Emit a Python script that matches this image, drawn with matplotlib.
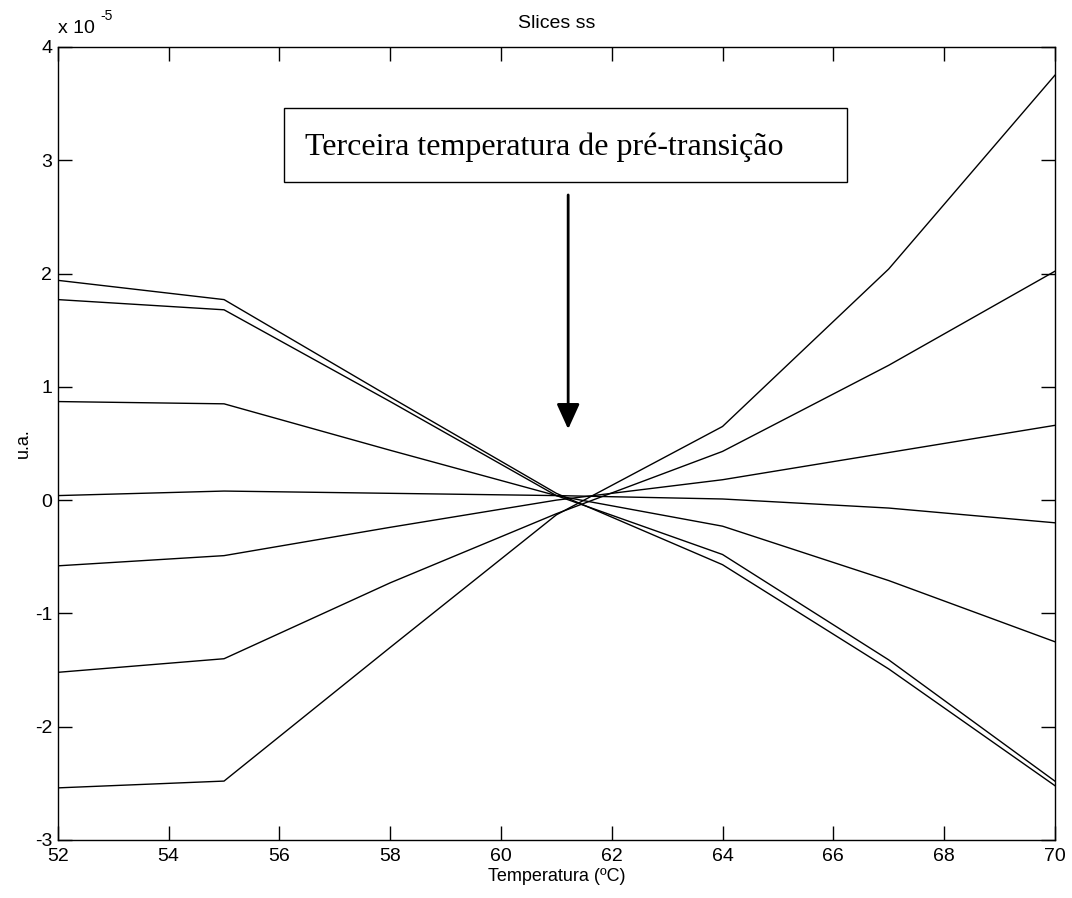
"""
Slices ss - third pre-transition temperature
"""

import matplotlib as mpl
import matplotlib.pyplot as plt
from matplotlib.patches import Rectangle

mpl.rcParams["font.family"] = ["Liberation Sans", "DejaVu Sans"]
mpl.rcParams["axes.unicode_minus"] = False

# temperatures (ºC)
temperatura = [52, 55, 58, 61, 64, 67, 70]

# slice values, in units of 1e-5
slice_1 = [1.94, 1.77, 0.91, 0.06, -0.57, -1.49, -2.52]
slice_2 = [1.77, 1.68, 0.87, 0.04, -0.48, -1.41, -2.48]
slice_3 = [0.87, 0.85, 0.44, 0.04, -0.23, -0.71, -1.25]
slice_4 = [0.04, 0.08, 0.06, 0.04, 0.01, -0.07, -0.20]
slice_5 = [-0.58, -0.49, -0.24, 0.00, 0.18, 0.42, 0.66]
slice_6 = [-1.52, -1.40, -0.73, -0.12, 0.43, 1.19, 2.02]
slice_7 = [-2.54, -2.48, -1.30, -0.13, 0.65, 2.04, 3.75]

slices = [slice_1, slice_2, slice_3, slice_4, slice_5, slice_6, slice_7]

xticks = [52, 54, 56, 58, 60, 62, 64, 66, 68, 70]
yticks = [-3, -2, -1, 0, 1, 2, 3, 4]

fig = plt.figure(figsize=(10.72, 8.98), dpi=100)
ax = fig.add_axes([0.054, 0.0646, 0.930, 0.8831])

for s in slices:
    ax.plot(temperatura, s, color="black", linewidth=1.0)

ax.set_xlim(52, 70)
ax.set_ylim(-3, 4)
ax.set_xticks(xticks)
ax.set_yticks(yticks)
ax.tick_params(direction="in", length=10, width=1, top=True, right=True,
               labelsize=14, pad=4)
ax.tick_params(axis="x", pad=6)
for sp in ax.spines.values():
    sp.set_linewidth(1.0)

ax.set_title("Slices ss", fontsize=14, pad=14)
ax.set_xlabel("Temperatura (ºC)", fontsize=13, labelpad=2)
ax.set_ylabel("u.a.", fontsize=13, labelpad=2)

# exponent label, MATLAB style
ax.text(0.0, 1.012, "x 10", transform=ax.transAxes,
        fontsize=14, ha="left", va="bottom")
ax.text(0.043, 1.030, "-5", transform=ax.transAxes,
        fontsize=10, ha="left", va="bottom")

# annotation box and arrow
fig.patches.append(Rectangle((0.265, 0.797), 0.525, 0.083,
                             transform=fig.transFigure, fill=False,
                             edgecolor="black", linewidth=1.0))
fig.text(0.2845, 0.836, "Terceira temperatura de pré-transição",
         family=["Liberation Serif", "DejaVu Serif"], fontsize=23,
         ha="left", va="center")
fig.add_artist(mpl.patches.FancyArrowPatch(
    (0.530, 0.786), (0.530, 0.519), transform=fig.transFigure,
    arrowstyle="-|>,head_length=1.1,head_width=0.5",
    mutation_scale=14, color="black", linewidth=2.0))

plt.savefig("out.png", dpi=100)
plt.close("all")
